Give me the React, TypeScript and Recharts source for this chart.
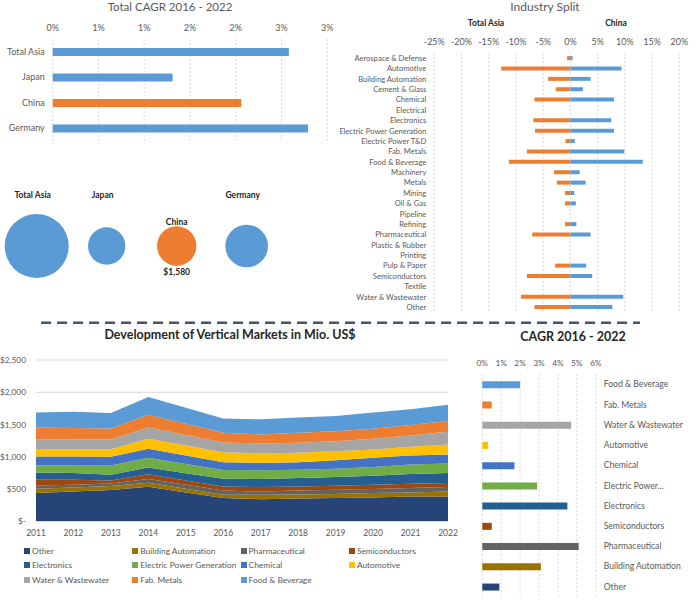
import React from 'react';
import {
  BarChart, Bar, XAxis, YAxis, CartesianGrid, Cell,
  ScatterChart, Scatter, ZAxis, AreaChart, Area,
} from 'recharts';

const FONT = 'Lato, "Open Sans", sans-serif';
const BLUE = '#5B9BD5';
const ORANGE = '#ED7D31';
const TICK = '#595959';
const GRID = '#D9D9D9';

// ---- Total CAGR 2016 - 2022 (percent) ----
const regions = ['Total Asia', 'Japan', 'China', 'Germany'];
const regionCagr = [2.58, 1.31, 2.06, 2.79];
const regionTicks = [0, 0.5, 1, 1.5, 2, 2.5, 3];

// ---- Market size bubbles (Mio. US$) ----
const bubbleValues = [4170, 1420, 1580, 1850];

// ---- Industry split (percent) ----
const industries = [
  'Aerospace & Defense', 'Automotive', 'Building Automation', 'Cement & Glass', 'Chemical',
  'Electrical', 'Electronics', 'Electric Power Generation', 'Electric Power T&D', 'Fab. Metals',
  'Food & Beverage', 'Machinery', 'Metals', 'Mining', 'Oil & Gas', 'Pipeline', 'Refining',
  'Pharmaceutical', 'Plastic & Rubber', 'Printing', 'Pulp & Paper', 'Semiconductors', 'Textile',
  'Water & Wastewater', 'Other',
];
const asiaSplit = [-0.6, -12.7, -4.1, -2.7, -6.6, 0, -6.8, -6.5, -0.9, -8.0, -11.3, -3.0, -2.5, -1.0, -1.0, 0, -1.0, -7.0, 0, 0, -2.8, -8.0, 0, -9.1, -6.6];
const chinaSplit = [0.4, 9.4, 3.7, 2.3, 8.0, 0, 7.5, 8.0, 0.8, 9.9, 13.3, 1.7, 2.8, 0.7, 1.0, 0, 1.1, 3.7, 0, 0, 2.9, 4.0, 0, 9.7, 7.7];
const splitTicks = [-25, -20, -15, -10, -5, 0, 5, 10, 15, 20];

// ---- Development of vertical markets (Mio. US$) ----
const years = ['2011', '2012', '2013', '2014', '2015', '2016', '2017', '2018', '2019', '2020', '2021', '2022'];
const otherVals = [440, 465, 487, 538, 450, 362, 346, 356, 362, 371, 387, 387];
const buildingVals = [67, 62, 64, 62, 56, 51, 67, 62, 62, 69, 62, 78];
const pharmaVals = [52, 42, 39, 58, 62, 67, 51, 62, 67, 62, 69, 69];
const semiVals = [89, 78, 45, 72, 67, 62, 69, 62, 62, 67, 67, 62];
const electronicsVals = [109, 105, 90, 105, 112, 120, 125, 131, 136, 140, 151, 156];
const powerGenVals = [114, 114, 142, 151, 144, 136, 134, 129, 129, 136, 145, 145];
const chemicalVals = [136, 140, 134, 140, 130, 119, 115, 114, 129, 140, 140, 140];
const automotiveVals = [109, 109, 119, 156, 156, 156, 145, 147, 140, 129, 136, 156];
const waterVals = [156, 156, 151, 172, 162, 151, 156, 156, 156, 167, 176, 198];
const fabVals = [183, 176, 167, 197, 174, 151, 140, 156, 156, 156, 161, 165];
const foodVals = [234, 250, 243, 276, 247, 218, 234, 234, 234, 250, 245, 250];
const areaTicks = [0, 500, 1000, 1500, 2000, 2500];

const seriesDefs = [
  { key: 'other', name: 'Other', color: '#264478', vals: otherVals },
  { key: 'building', name: 'Building Automation', color: '#997300', vals: buildingVals },
  { key: 'pharma', name: 'Pharmaceutical', color: '#636363', vals: pharmaVals },
  { key: 'semi', name: 'Semiconductors', color: '#9E480E', vals: semiVals },
  { key: 'electronics', name: 'Electronics', color: '#255E91', vals: electronicsVals },
  { key: 'powergen', name: 'Electric Power Generation', color: '#70AD47', vals: powerGenVals },
  { key: 'chemical', name: 'Chemical', color: '#4472C4', vals: chemicalVals },
  { key: 'automotive', name: 'Automotive', color: '#FFC000', vals: automotiveVals },
  { key: 'water', name: 'Water & Wastewater', color: '#A5A5A5', vals: waterVals },
  { key: 'fab', name: 'Fab. Metals', color: '#ED7D31', vals: fabVals },
  { key: 'food', name: 'Food & Beverage', color: '#5B9BD5', vals: foodVals },
];

// ---- CAGR 2016 - 2022 by vertical (percent) ----
const cagrVerticals = ['Food & Beverage', 'Fab. Metals', 'Water & Wastewater', 'Automotive', 'Chemical', 'Electric Power...', 'Electronics', 'Semiconductors', 'Pharmaceutical', 'Building Automation', 'Other'];
const cagrVerticalVals = [2.0, 0.5, 4.7, 0.3, 1.7, 2.9, 4.5, 0.5, 5.1, 3.1, 0.9];
const cagrVerticalColors = ['#5B9BD5', '#ED7D31', '#A5A5A5', '#FFC000', '#4472C4', '#70AD47', '#255E91', '#9E480E', '#636363', '#997300', '#264478'];
const cagrTicks = [0, 1, 2, 3, 4, 5, 6];

const regionData = regions.map((name, i) => ({ name, value: regionCagr[i] }));
const bubbleData = regions.map((name, i) => ({ name, idx: i, y: 0, value: bubbleValues[i] }));
const splitData = industries.map((name, i) => ({ name, asia: asiaSplit[i], china: chinaSplit[i] }));
const areaData = years.map((year, i) => {
  const row: any = { year };
  seriesDefs.forEach((s) => { row[s.key] = s.vals[i]; });
  return row;
});
const cagrData = cagrVerticals.map((name, i) => ({ name, value: cagrVerticalVals[i] }));

const money = (v: number) => (v === 0 ? '$-' : '$' + v.toLocaleString('en-US'));

const makeTick = (fontSize: number, anchor: 'start' | 'end' | 'middle', fmt?: (v: any) => string, dy = '0.35em') =>
  (p: any) => (
    <text x={p.x} y={p.y} dy={dy} textAnchor={anchor} fontSize={fontSize} fill={TICK} fontFamily={FONT}>
      {fmt ? fmt(p.payload.value) : p.payload.value}
    </text>
  );

const BubbleShape = (props: any) => {
  const { cx, cy, width, payload } = props;
  const r = width / 2;
  const hi = payload.name === 'China';
  const tStyle = { fontSize: 8.5, fontWeight: 700, fill: '#262626' } as any;
  return (
    <g>
      <circle cx={cx} cy={cy} r={r} fill={hi ? ORANGE : BLUE} />
      {hi ? (
        <>
          <text x={cx} y={cy - r - 1} textAnchor="middle" style={tStyle}>{payload.name}</text>
          <text x={cx} y={cy + r + 9} textAnchor="middle" style={tStyle}>{money(payload.value)}</text>
        </>
      ) : (
        <text x={cx - 4} y={cy - 48.5} textAnchor="middle" style={tStyle}>{payload.name}</text>
      )}
    </g>
  );
};

const abs = (left: number, top: number, extra: any = {}) => ({ position: 'absolute' as const, left, top, ...extra });

export default function App() {
  return (
    <div style={{ position: 'absolute', left: 0, top: 0, width: 700, height: 602, background: '#fff', fontFamily: FONT, overflow: 'hidden' }}>
      {/* Total CAGR */}
      <div style={abs(0, 0, { width: 340, textAlign: 'center', fontSize: 11.5, color: TICK, lineHeight: '14px' })}>Total CAGR 2016 - 2022</div>
      <div style={abs(0, 0)}>
        <BarChart width={340} height={150} data={regionData} layout="vertical" margin={{ top: 25, right: 12.7, left: 0, bottom: 9 }}>
          <CartesianGrid horizontal={false} strokeDasharray="2 2" stroke={GRID} />
          <XAxis type="number" orientation="top" domain={[0, 3]} ticks={regionTicks} axisLine={false} tickLine={false} height={14} interval={0}
            tick={makeTick(9, 'middle', (v: number) => Math.round(v) + '%', '0')} />
          <YAxis type="category" dataKey="name" width={52.7} axisLine={false} tickLine={false} tick={makeTick(9, 'end')} />
          <Bar dataKey="value" barSize={8} isAnimationActive={false}>
            {regionData.map((d) => <Cell key={d.name} fill={d.name === 'China' ? ORANGE : BLUE} />)}
          </Bar>
        </BarChart>
      </div>

      {/* Bubbles */}
      <div style={abs(0, 170)}>
        <ScatterChart width={340} height={140} margin={{ top: 12, right: 0, left: 0, bottom: 0 }}>
          <XAxis type="number" dataKey="idx" domain={[-0.524, 4.333]} hide />
          <YAxis type="number" dataKey="y" domain={[-1, 1]} hide />
          <ZAxis type="number" dataKey="value" domain={[0, 4170]} range={[0, 3217]} />
          <Scatter data={bubbleData} shape={BubbleShape} isAnimationActive={false} />
        </ScatterChart>
      </div>

      {/* Industry Split */}
      <div style={abs(340, 0, { width: 360, textAlign: 'center', fontSize: 12, color: TICK, lineHeight: '14px', paddingLeft: 50, boxSizing: 'border-box' })}>Industry Split</div>
      <div style={abs(462, 18, { width: 48, textAlign: 'center', fontSize: 8.5, fontWeight: 700, color: '#262626' })}>Total Asia</div>
      <div style={abs(596, 18, { width: 40, textAlign: 'center', fontSize: 8.5, fontWeight: 700, color: '#262626' })}>China</div>
      <div style={abs(340, 0)}>
        <BarChart width={360} height={320} data={splitData} layout="vertical" stackOffset="sign" margin={{ top: 39.1, right: 20.7, left: 0, bottom: 7.5 }}>
          <CartesianGrid horizontal={false} strokeDasharray="2 2" stroke={GRID} />
          <XAxis type="number" orientation="top" domain={[-25, 20]} ticks={splitTicks} axisLine={false} tickLine={false} height={14} interval={0}
            tick={makeTick(9, 'middle', (v: number) => v + '%', '0')} />
          <YAxis type="category" dataKey="name" width={94.3} axisLine={false} tickLine={false} interval={0} tick={makeTick(7.6, 'end')} />
          <Bar dataKey="asia" stackId="s" fill={ORANGE} barSize={4} isAnimationActive={false} />
          <Bar dataKey="china" stackId="s" fill={BLUE} barSize={4} isAnimationActive={false} />
        </BarChart>
      </div>

      {/* Separator */}
      <svg style={abs(0, 318)} width={700} height={10}>
        <line x1={41} y1={4.7} x2={640} y2={4.7} stroke="#44546A" strokeWidth={2.5} strokeDasharray="10 6" />
      </svg>

      {/* Area chart */}
      <div style={abs(0, 327, { width: 460, textAlign: 'center', fontSize: 12.5, fontWeight: 700, color: '#262626', lineHeight: '16px' })}>Development of Vertical Markets in Mio. US$</div>
      <div style={abs(0, 340)}>
        <AreaChart width={460} height={210} data={areaData} margin={{ top: 20, right: 12, left: 0, bottom: 8.5 }}>
          <CartesianGrid vertical={false} stroke={GRID} />
          <XAxis dataKey="year" height={20} axisLine={{ stroke: GRID }} tickLine={false} interval={0} tick={makeTick(8.5, 'middle', undefined, '0.71em')} />
          <YAxis type="number" domain={[0, 2500]} ticks={areaTicks} width={36} axisLine={false} tickLine={false} tickMargin={4}
            tick={makeTick(8.3, 'end', money)} />
          {seriesDefs.map((s) => (
            <Area key={s.key} dataKey={s.key} name={s.name} stackId="a" type="linear" stroke="none" fill={s.color} fillOpacity={1} isAnimationActive={false} />
          ))}
        </AreaChart>
      </div>
      <div style={abs(24, 544, { width: 440, display: 'grid', gridTemplateColumns: 'repeat(4, 108.3px)', rowGap: 0, fontSize: 8.4, color: TICK, lineHeight: '14.3px' })}>
        {seriesDefs.map((s) => (
          <div key={s.key} style={{ display: 'flex', alignItems: 'center', whiteSpace: 'nowrap' }}>
            <span style={{ display: 'inline-block', width: 6, height: 6, background: s.color, marginRight: 2 }} />
            {s.name}
          </div>
        ))}
      </div>

      {/* CAGR by vertical */}
      <div style={abs(460, 329, { width: 226, textAlign: 'center', fontSize: 12.5, fontWeight: 700, color: '#262626', lineHeight: '16px' })}>CAGR 2016 - 2022</div>
      <div style={abs(460, 320)}>
        <BarChart width={240} height={282} data={cagrData} layout="vertical" margin={{ top: 40.2, right: 0, left: 22.3, bottom: 5.2 }}>
          <CartesianGrid horizontal={false} strokeDasharray="2 2" stroke={GRID} />
          <XAxis type="number" orientation="top" domain={[0, 6]} ticks={cagrTicks} axisLine={false} tickLine={false} height={14} interval={0}
            tick={makeTick(8.3, 'middle', (v: number) => v + '%', '0')} />
          <YAxis type="category" dataKey="name" orientation="right" width={104.3} axisLine={false} tickLine={false} interval={0} tick={makeTick(8.6, 'start')} />
          <Bar dataKey="value" barSize={7} isAnimationActive={false}>
            {cagrData.map((d, i) => <Cell key={d.name} fill={cagrVerticalColors[i]} />)}
          </Bar>
        </BarChart>
      </div>
    </div>
  );
}
